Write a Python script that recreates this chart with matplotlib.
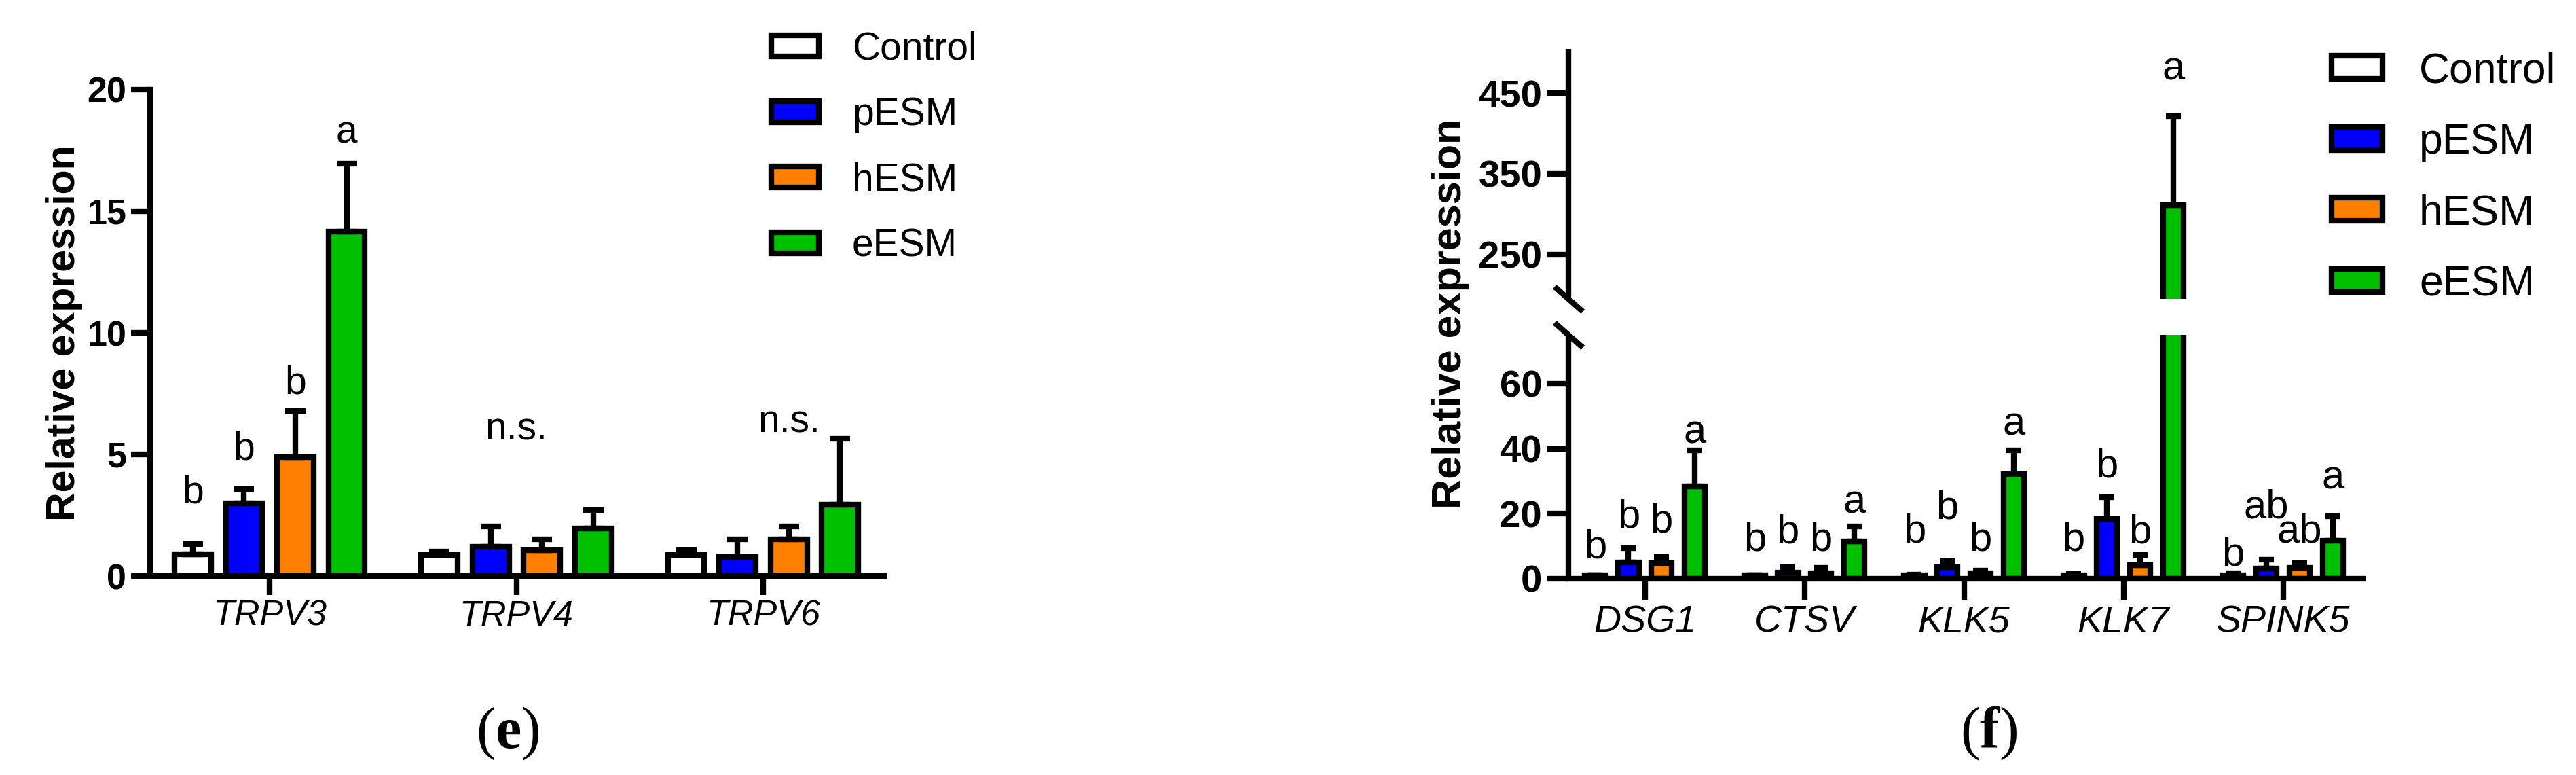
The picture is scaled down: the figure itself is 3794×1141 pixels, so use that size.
import numpy as np
import matplotlib.pyplot as plt
from matplotlib.patches import Rectangle

plt.rcParams['font.family'] = ['Liberation Sans', 'DejaVu Sans']
plt.rcParams['mathtext.fontset'] = 'custom'
plt.rcParams['mathtext.rm'] = 'Liberation Serif'
plt.rcParams['mathtext.bf'] = 'Liberation Serif:bold'

groups = ["Control", "pESM", "hESM", "eESM"]
colors = ["white", "#0000FF", "#FF8000", "#00C000"]

# panel (e)
genes_e = ["TRPV3", "TRPV4", "TRPV6"]
mean_e = {
  "Control": [0.88, 0.86, 0.86],
  "pESM": [2.99, 1.19, 0.78],
  "hESM": [4.90, 1.07, 1.52],
  "eESM": [14.15, 1.96, 2.94],
}
err_e = {
  "Control": [0.42, 0.15, 0.20],
  "pESM": [0.58, 0.84, 0.74],
  "hESM": [1.88, 0.45, 0.51],
  "eESM": [2.80, 0.75, 2.71],
}
# (gene index, bar position, height, text)
sig_e = [
  (0, 0, 3.0, "b"), (0, 1, 4.8, "b"), (0, 2, 7.5, "b"), (0, 3, 17.8, "a"),
  (1, 1.5, 5.6, "n.s."),
  (2, 2, 5.9, "n.s."),
]

# panel (f)
genes_f = ["DSG1", "CTSV", "KLK5", "KLK7", "SPINK5"]
mean_f = {
  "Control": [1.0, 1.0, 1.0, 1.0, 1.0],
  "pESM": [5.0, 1.8, 3.5, 18.4, 3.1],
  "hESM": [4.8, 1.6, 1.6, 4.2, 3.3],
  "eESM": [28.4, 11.4, 32.1, 311.0, 11.6],
}
err_f = {
  "Control": [0.1, 0.1, 0.3, 0.5, 0.7],
  "pESM": [4.5, 1.7, 1.9, 6.6, 2.8],
  "hESM": [1.8, 1.7, 0.9, 3.2, 1.6],
  "eESM": [11.0, 4.6, 7.3, 111.0, 7.7],
}
sig_f = [
  (0, 0, 6.3, "b"), (0, 1, 15.8, "b"), (0, 2, 14.3, "b"), (0, 3, 41.7, "a"),
  (1, 0, 8.7, "b"), (1, 1, 11.0, "b"), (1, 2, 8.7, "b"), (1, 3, 20.2, "a"),
  (2, 0, 11.2, "b"), (2, 1, 18.5, "b"), (2, 2, 8.6, "b"), (2, 3, 44.2, "a"),
  (3, 0, 8.6, "b"), (3, 1, 31.3, "b"), (3, 2, 10.9, "b"), (3, 3, 467.0, "a"),
  (4, 0, 4.0, "b"), (4, 1, 18.7, "ab"), (4, 2, 11.2, "ab"), (4, 3, 27.7, "a"),
]

W, H = 3794, 1141
LW = 6
pitch = 0.208

def rect(x0, y0, x1, y1):
  return [x0 / W, 1 - y1 / H, (x1 - x0) / W, (y1 - y0) / H]

def style_axis(ax, fs_tick, ticklen, pad):
  for side in ["top", "right"]:
    ax.spines[side].set_visible(False)
  for side in ["left", "bottom"]:
    ax.spines[side].set_linewidth(LW)
    ax.spines[side].set_capstyle("projecting")
  ax.tick_params(axis="both", width=LW, length=ticklen, labelsize=fs_tick, pad=pad)

def draw_bars(ax, means, errs, width, capsize):
  x = np.arange(len(means["Control"]))
  for i, g in enumerate(groups):
    xi = x + (i - 1.5) * pitch
    ax.bar(xi, means[g], width, color=colors[i], edgecolor="black", linewidth=LW, zorder=2)
    ax.errorbar(xi, means[g], yerr=[np.zeros(len(xi)), errs[g]], fmt="none", ecolor="black",
                elinewidth=LW, capsize=capsize, capthick=LW, zorder=3)

def draw_legend(fig, y_first, step, box_x, box_w, box_h, text_x, fs):
  em = fs * 100 / 72
  for i, g in enumerate(groups):
    yc = y_first + i * step
    fig.patches.append(Rectangle((box_x / W, 1 - (yc + box_h / 2) / H), box_w / W, box_h / H,
                                 transform=fig.transFigure, facecolor=colors[i],
                                 edgecolor="black", linewidth=LW))
    fig.text(text_x / W, 1 - (yc + 0.358 * em) / H, g, fontsize=fs, va="baseline", ha="left")

fig = plt.figure(figsize=(W / 100, H / 100), dpi=100)

# ---- panel (e)
ax_e = fig.add_axes(rect(221, 132, 1302, 848))
draw_bars(ax_e, mean_e, err_e, 0.148, 10.8)
ax_e.set_xlim(-0.485, 2.49)
ax_e.set_ylim(0, 20)
ax_e.set_yticks([0, 5, 10, 15, 20])
ax_e.set_yticklabels(["0", "5", "10", "15", "20"], fontweight="bold")
ax_e.set_xticks(np.arange(len(genes_e)))
ax_e.set_xticklabels(genes_e, fontstyle="italic", fontsize=38)
style_axis(ax_e, 37.5, 20, 5)
ax_e.set_ylabel("Relative expression", fontsize=42.5, fontweight="bold")
ax_e.yaxis.set_label_coords((122 - 221) / (1302 - 221), 0.5)
for gi, pos, y, s in sig_e:
  ax_e.text(gi + (pos - 1.5) * pitch, y, s, ha="center", va="baseline", fontsize=41)
draw_legend(fig, 67.5, 96.5, 1136, 70, 31, 1255, 41)

# ---- panel (f), broken y axis
ax_lo = fig.add_axes(rect(2310, 493, 3480, 852))
ax_hi = fig.add_axes(rect(2310, 72, 3480, 440))
for ax in [ax_lo, ax_hi]:
  draw_bars(ax, mean_f, err_f, 0.13, 7.6)
  ax.set_xlim(-0.48, 4.5)
  style_axis(ax, 40.5, 22, 6)
ax_lo.set_ylim(0, 75)
ax_hi.set_ylim(195, 505)
ax_lo.set_yticks([0, 20, 40, 60])
ax_lo.set_yticklabels(["0", "20", "40", "60"], fontweight="bold")
ax_hi.set_yticks([250, 350, 450])
ax_hi.set_yticklabels(["250", "350", "450"], fontweight="bold")
ax_lo.set_xticks(np.arange(len(genes_f)))
ax_lo.set_xticklabels(genes_f, fontstyle="italic", fontsize=40)
ax_hi.spines["bottom"].set_visible(False)
ax_hi.set_xticks([])
ax_lo.spines["left"].set_capstyle("butt")
ax_hi.spines["left"].set_capstyle("butt")
ax_lo.set_ylabel("Relative expression", fontsize=44, fontweight="bold")
ax_lo.yaxis.set_label_coords(2165 / W, 1 - 462 / H, transform=fig.transFigure)

for gi, pos, y, s in sig_f:
  ax = ax_hi if y > 75 else ax_lo
  ax.text(gi + (pos - 1.5) * pitch, y, s, ha="center", va="baseline", fontsize=43)

# break marks
slash = dict(marker=[(-1, 0.88), (1, -0.88)], markersize=30, markeredgewidth=LW,
             color="black", linestyle="none", clip_on=False)
ax_hi.plot([0], [0], transform=ax_hi.transAxes, **slash)
ax_lo.plot([0], [1], transform=ax_lo.transAxes, **slash)

draw_legend(fig, 99, 104.7, 3434, 75, 34, 3563, 45)

# panel letters
fig.text(748 / W, 1 - 1080 / H, r"$(\mathbf{e})$", fontsize=62, ha="center", va="center")
fig.text(2929 / W, 1 - 1080 / H, r"$(\mathbf{f})$", fontsize=62, ha="center", va="center")

fig.savefig("out.png", dpi=100)
